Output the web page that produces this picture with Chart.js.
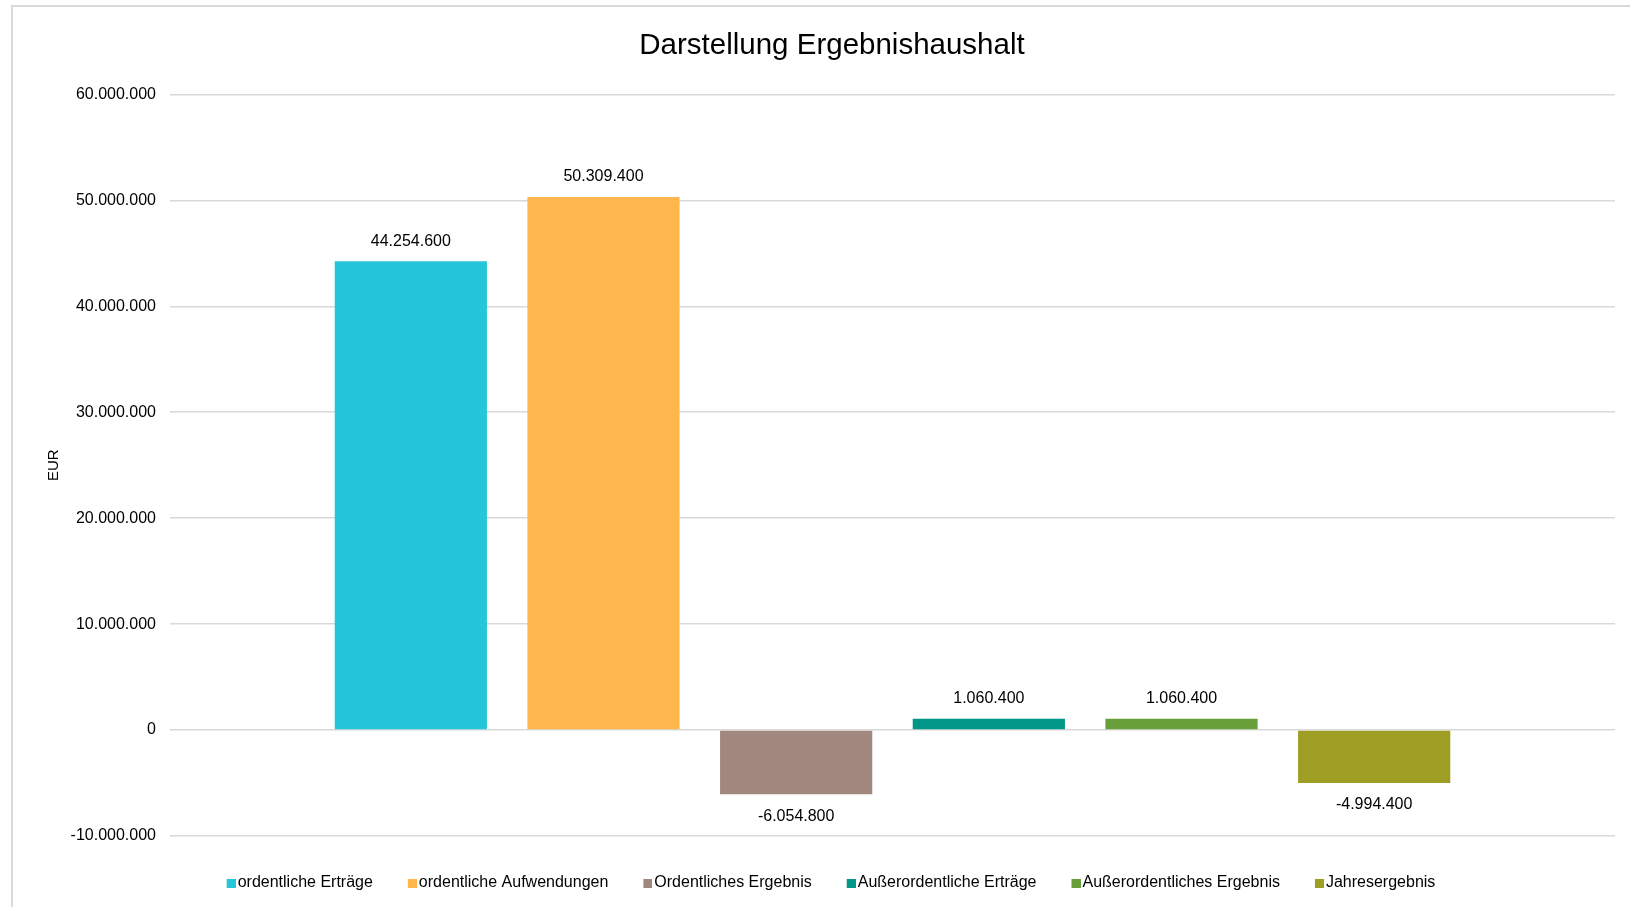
<!DOCTYPE html>
<html lang="de">
<head>
<meta charset="utf-8">
<title>Darstellung Ergebnishaushalt</title>
<script src="https://cdn.jsdelivr.net/npm/chart.js@4.4.1/dist/chart.umd.min.js"></script>
<style>
    html, body { margin: 0; padding: 0; background: #fff; overflow: hidden; }
    body { width: 1630px; height: 907px; position: relative; }
    .frame {
        position: absolute;
        left: 11px;
        top: 5px;
        width: 1640px;
        height: 910px;
        border: 2px solid #d9d9d9;
        box-sizing: border-box;
    }
    .chart-box {
        position: absolute;
        left: 13px;
        top: 7px;
        width: 1634px;
        height: 900px;
    }
</style>
</head>
<body>
<div class="frame"></div>
<div class="chart-box"><canvas id="chart"></canvas></div>
<script>
// Werte aus dem Ergebnishaushalt (EUR)
const categories = [''];
const seriesNames = [
    'ordentliche Erträge',
    'ordentliche Aufwendungen',
    'Ordentliches Ergebnis',
    'Außerordentliche Erträge',
    'Außerordentliches Ergebnis',
    'Jahresergebnis'
];
const seriesValues = [44254600, 50309400, -6054800, 1060400, 1060400, -4994400];
const seriesColors = ['#26C6DA', '#FFB74D', '#A1887F', '#009688', '#689F38', '#9E9D24'];
const yTicks = [-10000000, 0, 10000000, 20000000, 30000000, 40000000, 50000000, 60000000];

const FONT = "'Liberation Sans', Arial, sans-serif";

// 44254600 -> "44.254.600"
function formatDe(v) {
    const sign = v < 0 ? '-' : '';
    return sign + String(Math.abs(Math.round(v))).replace(/\B(?=(\d{3})+(?!\d))/g, '.');
}

// small square swatch for the legend, sitting right next to the text
function makeSwatch(color) {
    const c = document.createElement('canvas');
    c.width = 13;
    c.height = 9;
    const g = c.getContext('2d');
    g.fillStyle = color;
    g.fillRect(4, 0, 9, 9);
    return c;
}
const swatches = seriesColors.map(makeSwatch);

// Simple value labels above / below each bar
const valueLabels = {
    id: 'valueLabels',
    afterDatasetsDraw(chart) {
        const ctx = chart.ctx;
        ctx.save();
        ctx.font = '16px ' + FONT;
        ctx.fillStyle = '#000';
        ctx.textAlign = 'center';
        ctx.textBaseline = 'middle';
        chart.data.datasets.forEach((ds, i) => {
            const meta = chart.getDatasetMeta(i);
            meta.data.forEach((bar, j) => {
                const v = ds.data[j];
                const y = v >= 0 ? bar.y - 20 : bar.y + 22;
                ctx.fillText(formatDe(v), bar.x, y);
            });
        });
        ctx.restore();
    }
};

const datasets = seriesNames.map((name, i) => ({
    label: name,
    data: [seriesValues[i]],
    backgroundColor: seriesColors[i],
    borderWidth: 0,
    categoryPercentage: 0.8,
    barPercentage: 0.79
}));

new Chart(document.getElementById('chart'), {
    type: 'bar',
    data: { labels: categories, datasets },
    plugins: [valueLabels],
    options: {
        responsive: true,
        maintainAspectRatio: false,
        animation: false,
        layout: { padding: { top: 0, right: 32, bottom: 6, left: 36 } },
        plugins: {
            title: {
                display: true,
                text: 'Darstellung Ergebnishaushalt',
                color: '#000',
                font: { family: FONT, size: 29.5, weight: 'normal' },
                padding: { top: 21, bottom: 31 }
            },
            legend: {
                position: 'bottom',
                labels: {
                    color: '#000',
                    font: { family: FONT, size: 16 },
                    usePointStyle: true,
                    pointStyleWidth: 1,
                    padding: 37,
                    generateLabels: (chart) =>
                        Chart.defaults.plugins.legend.labels.generateLabels(chart)
                            .map((item, i) => ({ ...item, pointStyle: swatches[i] }))
                }
            },
            tooltip: { enabled: false }
        },
        scales: {
            x: {
                ticks: { display: false },
                grid: { display: false },
                border: { display: false },
                afterFit: (s) => { s.height = 2; }
            },
            y: {
                min: -10000000,
                max: 60000000,
                afterBuildTicks: (s) => { s.ticks = yTicks.map(v => ({ value: v })); },
                afterFit: (s) => { s.width = 121; },
                ticks: {
                    color: '#000',
                    font: { family: FONT, size: 16 },
                    padding: 14,
                    callback: (v) => formatDe(v)
                },
                grid: { color: '#d9d9d9', lineWidth: 1.5, drawTicks: false },
                border: { display: false },
                title: {
                    display: true,
                    text: 'EUR',
                    color: '#000',
                    font: { family: FONT, size: 15, lineHeight: 0.66 },
                    padding: { top: 0, bottom: 0 }
                }
            }
        }
    }
});
</script>
</body>
</html>
